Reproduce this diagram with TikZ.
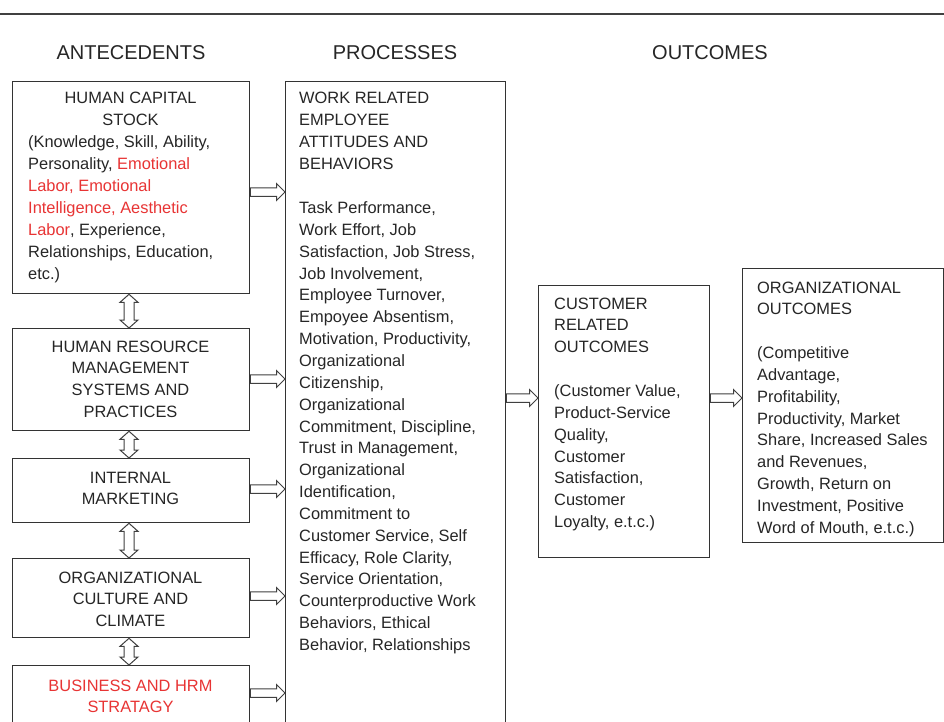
\documentclass[tikz,border=0pt]{standalone}
\usepackage{fontspec}
\setmainfont{Liberation Sans}
\usetikzlibrary{calc}

\definecolor{frame}{HTML}{333333}
\definecolor{arrowline}{HTML}{404040}
\definecolor{hot}{RGB}{232,52,52}

% text stacks that hang from the baseline of their first line
\newcommand{\lstack}[1]{\begin{tabular}[t]{@{}l@{}}#1\end{tabular}}
\newcommand{\cstack}[1]{\begin{tabular}[t]{@{}c@{}}#1\end{tabular}}

% horizontal open block arrow, drawn from a start point to the tip
\newcommand{\fatarrow}[2]{%
  \draw[blockarrow] let \p1=#1, \p2=#2 in
    (\x1,\y1+4.25) -- (\x2-8.5,\y1+4.25) -- (\x2-8.5,\y1+8.5) -- (\x2,\y1)
    -- (\x2-8.5,\y1-8.5) -- (\x2-8.5,\y1-4.25) -- (\x1,\y1-4.25) -- cycle;}
% vertical open double-headed block arrow, upper point first
\newcommand{\dblarrow}[2]{%
  \draw[blockarrow] let \p1=#1, \p2=#2 in
    (\x1,\y1) -- (\x1+9,\y1-8) -- (\x1+5,\y1-8) -- (\x1+5,\y2+8)
    -- (\x1+9,\y2+8) -- (\x1,\y2) -- (\x1-9,\y2+8) -- (\x1-5,\y2+8)
    -- (\x1-5,\y1-8) -- (\x1-9,\y1-8) -- cycle;}

\tikzset{
  box/.style={draw=frame, line width=1.3pt, fill=white, rectangle,
    anchor=north west, inner sep=0pt},
  blockarrow/.style={draw=arrowline, line width=1pt, fill=white, line join=miter},
  txt/.style={inner sep=0pt, font=\fontsize{16.4}{21.85}\selectfont,
    text=black!85},
  bodytxt/.style={txt, anchor=base west},
  titletxt/.style={txt, anchor=base},
  head/.style={inner sep=0pt, anchor=base, font=\fontsize{20}{24}\selectfont,
    text=black!85},
}

\begin{document}
\begin{tikzpicture}[x=1pt, y=-1pt]
\useasboundingbox (0,0) rectangle (944,722);
\clip (0,0) rectangle (944,722);
\fill[white] (0,0) rectangle (944,722);

% rule across the top
\draw[line width=2pt, draw=black!75] (0,14) -- (944,14);

% column headings
\node[head] (hA) at (131,60) {ANTECEDENTS};
\node[head] (hP) at (395,60) {PROCESSES};
\node[head] (hO) at (710,60) {OUTCOMES};

% antecedent boxes
\node[box, minimum width=237, minimum height=212] (a1) at (12,81) {};
\node[box, minimum width=237, minimum height=102] (a2) at (12,328) {};
\node[box, minimum width=237, minimum height=64]  (a3) at (12,458) {};
\node[box, minimum width=237, minimum height=79]  (a4) at (12,558) {};
\node[box, minimum width=237, minimum height=100] (a5) at (12,665) {};

% process, customer and organizational boxes
\node[box, minimum width=220, minimum height=700] (pr) at (285,81) {};
\node[box, minimum width=171, minimum height=272] (cu) at (538,285) {};
\node[box, minimum width=201, minimum height=274] (og) at (742,268) {};

% antecedent texts
\node[titletxt] (t1) at (130.5,104) {\cstack{HUMAN CAPITAL\\STOCK}};
\node[bodytxt] (b1) at (28,148) {\lstack{(Knowledge, Skill, Ability,\\
  Personality, \textcolor{hot}{Emotional}\\
  \textcolor{hot}{Labor, Emotional}\\
  \textcolor{hot}{Intelligence, Aesthetic}\\
  \textcolor{hot}{Labor}, Experience,\\
  Relationships, Education,\\
  etc.)}};
\node[titletxt] (t2) at (130.5,352) {\cstack{HUMAN RESOURCE\\MANAGEMENT\\SYSTEMS AND\\PRACTICES}};
\node[titletxt] (t3) at (130.5,483) {\cstack{INTERNAL\\MARKETING}};
\node[titletxt] (t4) at (130.5,583) {\cstack{ORGANIZATIONAL\\CULTURE AND\\CLIMATE}};
\node[titletxt, text=hot] (t5) at (130.5,691) {\cstack{BUSINESS AND HRM\\STRATAGY}};

% process texts
\node[bodytxt] (tp) at (299,104) {\lstack{WORK RELATED\\EMPLOYEE\\ATTITUDES AND\\BEHAVIORS}};
\node[bodytxt] (bp) at (299,213.5) {\lstack{Task Performance,\\
  Work Effort, Job\\
  Satisfaction, Job Stress,\\
  Job Involvement,\\
  Employee Turnover,\\
  Empoyee Absentism,\\
  Motivation, Productivity,\\
  Organizational\\
  Citizenship,\\
  Organizational\\
  Commitment, Discipline,\\
  Trust in Management,\\
  Organizational\\
  Identification,\\
  Commitment to\\
  Customer Service, Self\\
  Efficacy, Role Clarity,\\
  Service Orientation,\\
  Counterproductive Work\\
  Behaviors, Ethical\\
  Behavior, Relationships}};

% customer outcome texts
\node[bodytxt] (tc) at (554,309) {\lstack{CUSTOMER\\RELATED\\OUTCOMES}};
\node[bodytxt] (bc) at (554,396.5) {\lstack{(Customer Value,\\
  Product-Service\\
  Quality,\\
  Customer\\
  Satisfaction,\\
  Customer\\
  Loyalty, e.t.c.)}};

% organizational outcome texts
\node[bodytxt] (to) at (757,293) {\lstack{ORGANIZATIONAL\\OUTCOMES}};
\node[bodytxt] (bo) at (757,358.5) {\lstack{(Competitive\\
  Advantage,\\
  Profitability,\\
  Productivity, Market\\
  Share, Increased Sales\\
  and Revenues,\\
  Growth, Return on\\
  Investment, Positive\\
  Word of Mouth, e.t.c.)}};

% links between antecedents
\dblarrow{(a1.south -| 129,0)}{(a2.north -| 129,0)}
\dblarrow{(a2.south -| 129,0)}{(a3.north -| 129,0)}
\dblarrow{(a3.south -| 129,0)}{(a4.north -| 129,0)}
\dblarrow{(a4.south -| 129,0)}{(a5.north -| 129,0)}

% antecedents feed the processes
\fatarrow{(a1.east |- 0,192)}{(pr.west |- 0,192)}
\fatarrow{(a2.east |- 0,379)}{(pr.west |- 0,379)}
\fatarrow{(a3.east |- 0,489)}{(pr.west |- 0,489)}
\fatarrow{(a4.east |- 0,596)}{(pr.west |- 0,596)}
\fatarrow{(a5.east |- 0,693)}{(pr.west |- 0,693)}

% processes to customer outcomes to organizational outcomes
\fatarrow{(pr.east |- 0,398)}{(cu.west |- 0,398)}
\fatarrow{(cu.east |- 0,398)}{(og.west |- 0,398)}
\end{tikzpicture}
\end{document}
